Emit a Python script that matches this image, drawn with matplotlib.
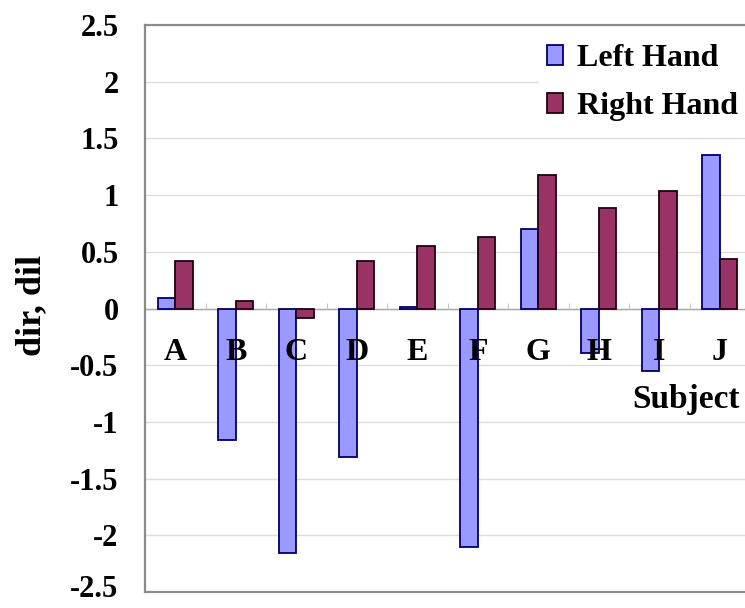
import matplotlib
matplotlib.use("Agg")
import matplotlib.pyplot as plt
import matplotlib.transforms as mtransforms
from matplotlib.patches import Patch
import numpy as np

subjects = ["A", "B", "C", "D", "E", "F", "G", "H", "I", "J"]
left_hand = [0.09, -1.16, -2.16, -1.31, 0.01, -2.10, 0.70, -0.39, -0.55, 1.35]
right_hand = [0.42, 0.07, -0.08, 0.42, 0.55, 0.63, 1.18, 0.89, 1.04, 0.44]
yticks = [2.5, 2, 1.5, 1, 0.5, 0, -0.5, -1, -1.5, -2, -2.5]
ytick_labels = ["2.5", "2", "1.5", "1", "0.5", "0", "-0.5", "-1", "-1.5", "-2", "-2.5"]

plt.rcParams['font.family'] = ['Liberation Serif', 'DejaVu Serif']
plt.rcParams['font.weight'] = 'bold'

fig = plt.figure(figsize=(7.45, 6.08), dpi=100)
ax = fig.add_axes([145/745, 16/608, 605/745, 567/608])

x = np.arange(len(subjects))
w = 0.29
left_col = '#9999FF'
right_col = '#993366'
ax.bar(x - w/2, left_hand, w, color=left_col, edgecolor='#000066', linewidth=1.3, zorder=3)
ax.bar(x + w/2, right_hand, w, color=right_col, edgecolor='#200010', linewidth=1.3, zorder=3)

ax.set_xlim(-0.5, len(subjects) - 0.5)
ax.set_ylim(-2.5, 2.5)
ax.set_yticks(yticks)
ax.set_yticklabels(ytick_labels, fontsize=22, fontweight='bold')
ax.tick_params(axis='y', length=0, pad=19)
ax.set_xticks([])

# keep the bottom label inside the canvas
for t in ax.get_yticklabels():
    if t.get_text() == "-2.5":
        t.set_transform(t.get_transform() + mtransforms.ScaledTranslation(0, 6/100, fig.dpi_scale_trans))

ax.grid(axis='y', color='#dcdcdc', linewidth=1.0, zorder=0)
ax.axhline(0, color='#a8a8a8', linewidth=1.0, zorder=2)
ax.vlines(x[:-1] + 0.5, 0, 0.05, color='#c8c8c8', linewidth=0.8, zorder=2)

for s in ax.spines.values():
    s.set_color('#8c8c8c')
    s.set_linewidth(1.6)

for xi, lab in zip(x, subjects):
    ax.text(xi, -0.39, lab, ha='center', va='center', fontsize=23, fontweight='bold', zorder=4)

ax.text((740-145)/605, -0.80, "Subject",
        transform=mtransforms.blended_transform_factory(ax.transAxes, ax.transData),
        ha='right', va='center', fontsize=24, fontweight='bold', zorder=4)

fig.text(32/745, 1 - 305/608, "dir, dil", rotation=90, ha='center', va='center',
         fontsize=26, fontweight='bold')

handles = [Patch(facecolor=left_col, edgecolor='#000066', linewidth=1.3, label='Left Hand'),
           Patch(facecolor=right_col, edgecolor='#200010', linewidth=1.3, label='Right Hand')]
leg = ax.legend(handles=handles, loc='upper left', bbox_to_anchor=(539/745, 1 - 36/608),
                bbox_transform=fig.transFigure, borderaxespad=0, borderpad=0.25,
                handlelength=0.5, handleheight=0.58, handletextpad=0.45, labelspacing=0.6,
                frameon=True, fancybox=False, prop={'family': 'Liberation Serif', 'weight': 'bold', 'size': 23})
leg.get_frame().set_facecolor('white')
leg.get_frame().set_edgecolor('none')
leg.get_frame().set_alpha(1)
leg.set_zorder(5)

fig.savefig("out.png", dpi=100)
